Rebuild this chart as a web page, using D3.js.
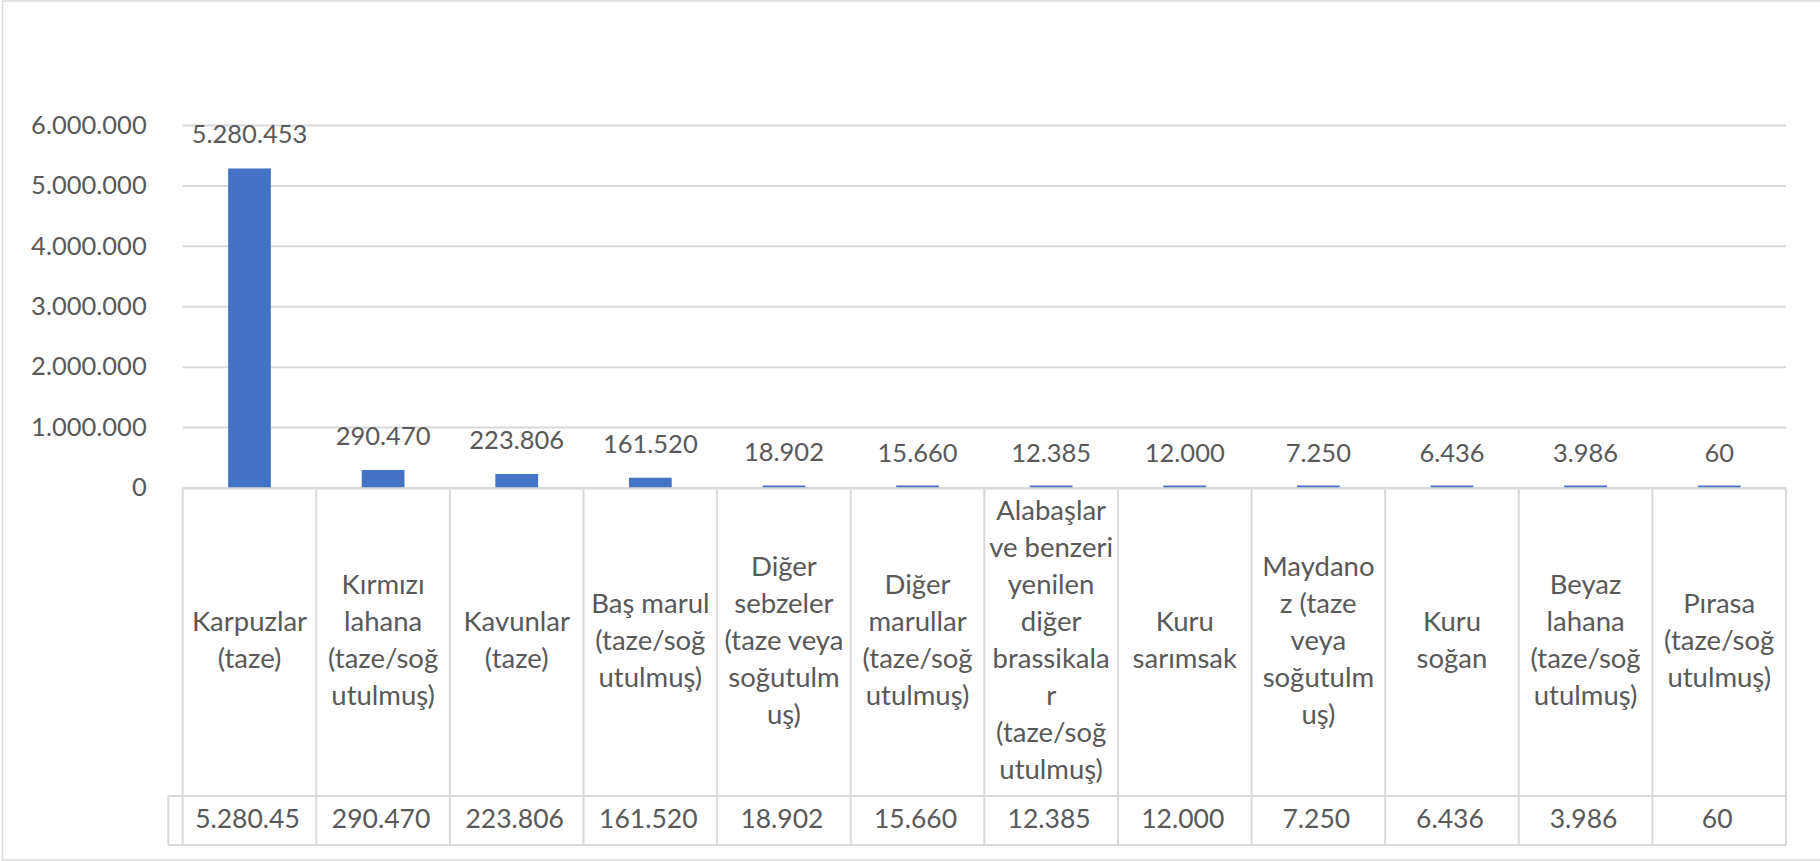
<!DOCTYPE html>
<html>
<head>
<meta charset="utf-8">
<script src="https://cdn.jsdelivr.net/npm/d3@7"></script>
<style>
  html, body { margin: 0; padding: 0; background: #ffffff; }
  svg { display: block; }
  text { font-family: Lato, "Open Sans", sans-serif; fill: #595959; }
</style>
</head>
<body>
<svg id="chart" width="1820" height="861"></svg>
<script>
// ---- data ----
const categories = [
  "Karpuzlar\n(taze)",
  "Kırmızı\nlahana\n(taze/soğ\nutulmuş)",
  "Kavunlar\n(taze)",
  "Baş marul\n(taze/soğ\nutulmuş)",
  "Diğer\nsebzeler\n(taze veya\nsoğutulm\nuş)",
  "Diğer\nmarullar\n(taze/soğ\nutulmuş)",
  "Alabaşlar\nve benzeri\nyenilen\ndiğer\nbrassikala\nr\n(taze/soğ\nutulmuş)",
  "Kuru\nsarımsak",
  "Maydano\nz (taze\nveya\nsoğutulm\nuş)",
  "Kuru\nsoğan",
  "Beyaz\nlahana\n(taze/soğ\nutulmuş)",
  "Pırasa\n(taze/soğ\nutulmuş)"
];
const values = [5280453, 290470, 223806, 161520, 18902, 15660, 12385, 12000, 7250, 6436, 3986, 60];
const tableCellText = ["5.280.45", "290.470", "223.806", "161.520", "18.902", "15.660", "12.385", "12.000", "7.250", "6.436", "3.986", "60"];
const yTicks = [0, 1000000, 2000000, 3000000, 4000000, 5000000, 6000000];

// ---- setup ----
const tr = d3.formatLocale({decimal: ",", thousands: ".", grouping: [3], currency: ["", " ₺"]});
const fmt = tr.format(",d");

const svg = d3.select("#chart");
const gridColor = "#d9d9d9";
const barColor = "#4472c4";

const plotLeft = 182.7, plotRight = 1786;
const y0 = 487.5, yTop = 125;
const tableTop = 488.5, tableSep = 796, tableBottom = 845, legendLeft = 168.3;

const xCol = d3.scaleBand().domain(d3.range(categories.length)).range([plotLeft, plotRight]).padding(0);
const xBar = xCol.copy().paddingInner(0.68).paddingOuter(0.34);
const y = d3.scaleLinear().domain([0, 6000000]).range([y0, yTop]);

// chart border
svg.append("rect")
  .attr("x", 2.5).attr("y", 1).attr("width", 1840).attr("height", 859)
  .attr("fill", "none").attr("stroke", gridColor).attr("stroke-width", 1.5);

// gridlines + y axis labels via d3 axis
const yAxis = d3.axisLeft(y).tickValues(yTicks).tickFormat(fmt)
  .tickSize(-(plotRight - plotLeft)).tickPadding(36);
const gy = svg.append("g").attr("transform", `translate(${plotLeft},0)`).call(yAxis);
gy.select(".domain").remove();
gy.selectAll(".tick line").attr("stroke", gridColor).attr("stroke-width", 2);
gy.selectAll(".tick text")
  .attr("fill", "#595959").attr("font-size", 25.5)
  .attr("font-family", "Lato, 'Open Sans', sans-serif");

// bars
svg.append("g").selectAll("rect").data(values).join("rect")
  .attr("x", (d, i) => xBar(i))
  .attr("width", xBar.bandwidth())
  .attr("y", d => Math.min(y(d), y0 - 2))
  .attr("height", d => Math.max(y0 - y(d), 2))
  .attr("fill", barColor);

// data labels
svg.append("g").selectAll("text").data(values).join("text")
  .attr("x", (d, i) => xCol(i) + xCol.bandwidth() / 2)
  .attr("y", d => y(d) - 25)
  .attr("text-anchor", "middle")
  .attr("font-size", 25.5)
  .text(d => fmt(d));

// data table grid
const tg = svg.append("g").attr("stroke", gridColor).attr("stroke-width", 2).attr("fill", "none");
tg.append("line").attr("x1", plotLeft).attr("x2", plotRight).attr("y1", tableTop).attr("y2", tableTop);
tg.append("line").attr("x1", legendLeft).attr("x2", plotRight).attr("y1", tableSep).attr("y2", tableSep);
tg.append("line").attr("x1", legendLeft).attr("x2", plotRight).attr("y1", tableBottom).attr("y2", tableBottom);
tg.append("line").attr("x1", legendLeft).attr("x2", legendLeft).attr("y1", tableSep).attr("y2", tableBottom);
const colEdges = d3.range(categories.length).map(i => xCol(i)).concat([plotRight]);
tg.selectAll("line.v").data(colEdges).join("line").attr("class", "v")
  .attr("x1", d => d).attr("x2", d => d).attr("y1", tableTop).attr("y2", tableBottom);

// category labels
const lh = 37;
const labelCenter = (tableTop + tableSep) / 2 - 2;
const catG = svg.append("g").selectAll("text").data(categories).join("text")
  .attr("text-anchor", "middle")
  .attr("font-size", 27.5);
catG.each(function(d, i) {
  const lines = d.split("\n");
  const cx = xCol(i) + xCol.bandwidth() / 2;
  d3.select(this).selectAll("tspan").data(lines).join("tspan")
    .attr("x", cx)
    .attr("y", (l, j) => labelCenter + (j - (lines.length - 1) / 2) * lh)
    .attr("dy", "0.35em")
    .text(l => l);
});

// table values
svg.append("g").selectAll("text").data(tableCellText).join("text")
  .attr("x", (d, i) => xCol(i) + xCol.bandwidth() / 2 - 2)
  .attr("y", (tableSep + tableBottom) / 2 - 2)
  .attr("dy", "0.35em")
  .attr("text-anchor", "middle")
  .attr("font-size", 26.5)
  .text(d => d);
</script>
</body>
</html>
